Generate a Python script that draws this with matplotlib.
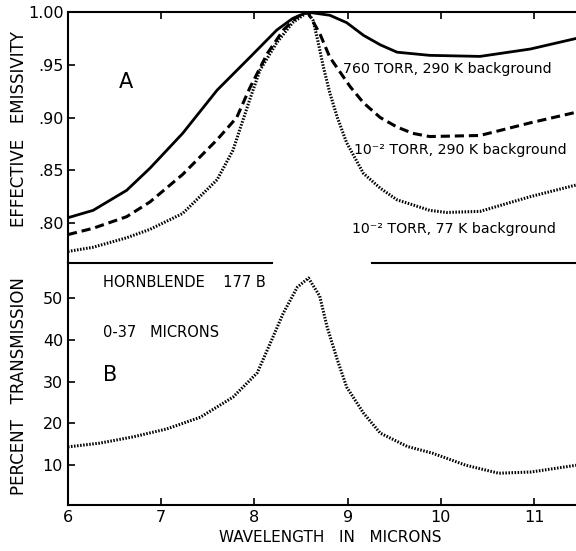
import numpy as np
import matplotlib
matplotlib.use('Agg')
import matplotlib.pyplot as plt

# panel A: effective emissivity
wl_760 = [6.00, 6.27, 6.63, 6.88, 7.23, 7.60, 7.95, 8.24, 8.41, 8.57, 8.81, 8.99, 9.17, 9.35, 9.53, 9.88, 10.42, 10.96, 11.45]
em_760 = [0.805, 0.812, 0.831, 0.852, 0.885, 0.926, 0.957, 0.983, 0.994, 1.000, 0.997, 0.990, 0.978, 0.969, 0.962, 0.959, 0.958, 0.965, 0.975]

wl_290 = [6.00, 6.27, 6.63, 6.88, 7.23, 7.60, 7.81, 7.95, 8.14, 8.31, 8.45, 8.57, 8.70, 8.81, 8.92, 9.03, 9.17, 9.35, 9.53, 9.70, 9.88, 10.42, 10.96, 11.45]
em_290 = [0.789, 0.795, 0.806, 0.820, 0.846, 0.879, 0.900, 0.928, 0.961, 0.983, 0.995, 1.000, 0.980, 0.957, 0.943, 0.929, 0.914, 0.900, 0.891, 0.885, 0.882, 0.883, 0.895, 0.905]

wl_77 = [6.00, 6.27, 6.63, 6.88, 7.23, 7.60, 7.77, 7.95, 8.06, 8.24, 8.41, 8.57, 8.63, 8.68, 8.74, 8.81, 8.89, 8.99, 9.17, 9.35, 9.53, 9.88, 10.06, 10.42, 10.96, 11.45]
em_77 = [0.773, 0.777, 0.786, 0.794, 0.809, 0.841, 0.869, 0.917, 0.945, 0.971, 0.990, 1.000, 0.992, 0.973, 0.948, 0.923, 0.900, 0.876, 0.847, 0.833, 0.822, 0.812, 0.810, 0.811, 0.825, 0.836]

# panel B: percent transmission
wl_tr = [6.00, 6.34, 6.70, 7.06, 7.42, 7.77, 8.03, 8.17, 8.31, 8.46, 8.58, 8.70, 8.78, 8.89, 8.99, 9.17, 9.35, 9.64, 9.91, 10.27, 10.62, 10.97, 11.45]
tr = [14.4, 15.3, 16.8, 18.7, 21.5, 26.3, 32.1, 39.2, 46.4, 52.6, 54.8, 50.5, 43.1, 35.2, 28.7, 22.5, 17.7, 14.5, 12.9, 10.0, 8.1, 8.4, 10.0]

x_ticks = [6, 7, 8, 9, 10, 11]
a_ticks = [0.80, 0.85, 0.90, 0.95, 1.00]
a_labels = ['.80', '.85', '.90', '.95', '1.00']
b_ticks = [10, 20, 30, 40, 50]
gap = (8.19, 9.26)  # break in the line between the panels

XLIM = (6.0, 11.45)

plt.rcParams['font.family'] = 'DejaVu Sans'
fig = plt.figure(figsize=(5.76, 5.51), dpi=100)
ax_a = fig.add_axes([0.118, 0.5245, 0.882, 0.4535])
ax_b = fig.add_axes([0.118, 0.0835, 0.882, 0.4392])

ax_a.plot(wl_760, em_760, color='black', lw=2.0, solid_joinstyle='round')
ax_a.plot(wl_290, em_290, color='black', lw=2.2, linestyle=(0, (3.0, 1.6)))
ax_a.plot(wl_77, em_77, color='black', lw=2.2, linestyle=(0, (0.5, 0.5)))
ax_a.set_xlim(XLIM)
ax_a.set_ylim(0.763, 1.0)
ax_a.set_yticks(a_ticks)
ax_a.set_yticklabels(a_labels)
ax_a.set_xticks(x_ticks)
ax_a.tick_params(axis='x', top=True, bottom=False, labelbottom=False, direction='in', length=5, width=1.2)
ax_a.tick_params(axis='y', direction='in', length=5, width=1.2, labelsize=11.5, pad=3)

ax_b.plot(wl_tr, tr, color='black', lw=2.2, linestyle=(0, (0.5, 0.5)))
ax_b.set_xlim(XLIM)
ax_b.set_ylim(0.5, 58.4)
ax_b.set_yticks(b_ticks)
ax_b.set_xticks(x_ticks)
ax_b.tick_params(direction='in', length=5, width=1.2, labelsize=11.5)

for ax in (ax_a, ax_b):
    ax.spines['right'].set_visible(False)
    ax.spines['left'].set_linewidth(1.5)
ax_a.spines['top'].set_linewidth(1.5)
ax_a.spines['bottom'].set_visible(False)
ax_b.spines['top'].set_visible(False)
ax_b.spines['bottom'].set_linewidth(1.5)

# broken boundary line between the two panels
span = XLIM[1] - XLIM[0]
ax_b.axhline(58.4, xmin=0, xmax=(gap[0] - XLIM[0]) / span, color='black', lw=1.5, clip_on=False)
ax_b.axhline(58.4, xmin=(gap[1] - XLIM[0]) / span, xmax=1, color='black', lw=1.5, clip_on=False)

ax_a.text(6.55, 0.928, 'A', fontsize=15)
ax_a.text(8.95, 0.946, '760 TORR, 290 K background', fontsize=10.2, va='center')
ax_a.text(9.07, 0.869, '10⁻² TORR, 290 K background', fontsize=10.2, va='center')
ax_a.text(9.05, 0.794, '10⁻² TORR, 77 K background', fontsize=10.2, va='center')

ax_b.text(6.38, 53.7, 'HORNBLENDE    177 B', fontsize=10.5, va='center')
ax_b.text(6.38, 41.8, '0-37   MICRONS', fontsize=10.5, va='center')
ax_b.text(6.38, 31.5, 'B', fontsize=15, va='center')

fig.text(0.033, 0.765, 'EFFECTIVE   EMISSIVITY', rotation=90, ha='center', va='center', fontsize=12)
fig.text(0.033, 0.30, 'PERCENT   TRANSMISSION', rotation=90, ha='center', va='center', fontsize=12)
fig.text(0.573, 0.025, 'WAVELENGTH   IN   MICRONS', ha='center', va='center', fontsize=11)

fig.savefig('out.png', dpi=100)
